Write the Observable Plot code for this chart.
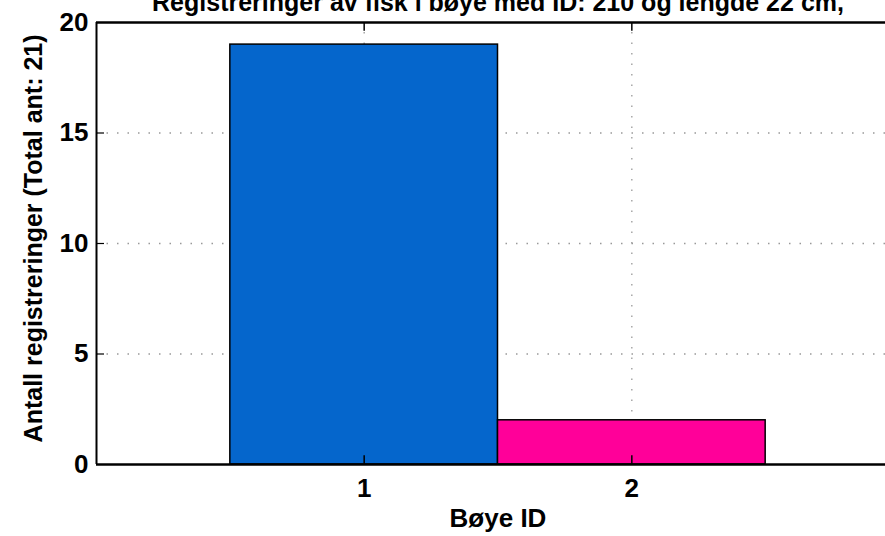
<!DOCTYPE html>
<html>
<head>
<meta charset="utf-8">
<script src="https://cdn.jsdelivr.net/npm/d3@7"></script>
<script src="https://cdn.jsdelivr.net/npm/@observablehq/plot@0.6"></script>
<style>
  html, body { margin: 0; padding: 0; background: #fff; overflow: hidden; width: 885px; height: 536px; }
  #chart { width: 885px; height: 536px; overflow: hidden; }
  #chart svg { max-width: none !important; }
</style>
</head>
<body>
<div id="chart"></div>
<script>
const boyeIds = [1, 2];
const counts = [19, 2];
const colors = ["#0566CC", "#FF0099"];
const yTicks = [0, 5, 10, 15, 20];
const xTicks = [1, 2];
const title = "Registreringer av fisk i bøye med ID: 210 og lengde 22 cm,";
const xLabel = "Bøye ID";
const yLabel = "Antall registreringer (Total ant: 21)";

const data = boyeIds.map((id, i) => ({id, count: counts[i], color: colors[i]}));

const fontBold = {fontSize: 25, fontWeight: "bold", fill: "black"};
const innerY = yTicks.filter(d => d > 0 && d < 20);

const plot = Plot.plot({
  width: 920,
  height: 536,
  marginLeft: 96,
  marginRight: 21,
  marginTop: 22,
  marginBottom: 72,
  style: {fontFamily: "'Liberation Sans', Arial, sans-serif", overflow: "visible", maxWidth: "none"},
  x: {type: "linear", domain: [0, 3], axis: null},
  y: {type: "linear", domain: [0, 20], axis: null},
  marks: [
    // dotted grid
    Plot.ruleY(innerY, {x1: 0, x2: 3, stroke: "#999", strokeWidth: 1.3, strokeDasharray: "1.5,9"}),
    Plot.ruleX(xTicks, {y1: 0, y2: 20, stroke: "#999", strokeWidth: 1.3, strokeDasharray: "1.5,9"}),
    // bars
    Plot.rectY(data, {x1: d => d.id - 0.5, x2: d => d.id + 0.5, y1: 0, y2: "count", fill: "color", stroke: "black", strokeWidth: 1.5}),
    // frame lines
    Plot.ruleY([0], {x1: 0, x2: 3, stroke: "black", strokeWidth: 2.4}),
    Plot.ruleY([20], {x1: 0, x2: 3, stroke: "black", strokeWidth: 2.4}),
    Plot.ruleX([0], {y1: 0, y2: 20, stroke: "black", strokeWidth: 2}),
    // inner ticks
    Plot.ruleY(innerY, {x1: 0, x2: 0.03, stroke: "black", strokeWidth: 1.2}),
    Plot.ruleX(xTicks, {y1: 20, y2: 19.6, stroke: "black", strokeWidth: 1.5}),
    Plot.ruleX(xTicks, {y1: 0, y2: 0.4, stroke: "black", strokeWidth: 1.5}),
    // tick labels
    Plot.text(yTicks, {x: 0, y: d => d, text: d => String(d), textAnchor: "end", dx: -8, ...fontBold, fontSize: 26}),
    Plot.text(xTicks, {x: d => d, y: 0, text: d => String(d), lineAnchor: "top", dy: 14.5, ...fontBold, fontSize: 26}),
    // axis labels
    Plot.text([xLabel], {x: 1.5, y: 0, text: d => d, lineAnchor: "top", dy: 44.5, ...fontBold, fontSize: 26}),
    Plot.text([yLabel], {x: 0, y: 10.23, text: d => d, rotate: -90, dx: -63, ...fontBold, letterSpacing: "-0.5px"}),
    // title (mostly clipped at top, as in the reference)
    Plot.text([title], {x: 1.5, y: 20, text: d => d, lineAnchor: "bottom", dy: -12, ...fontBold, letterSpacing: "-0.5px"})
  ]
});
document.getElementById("chart").appendChild(plot);
</script>
</body>
</html>
